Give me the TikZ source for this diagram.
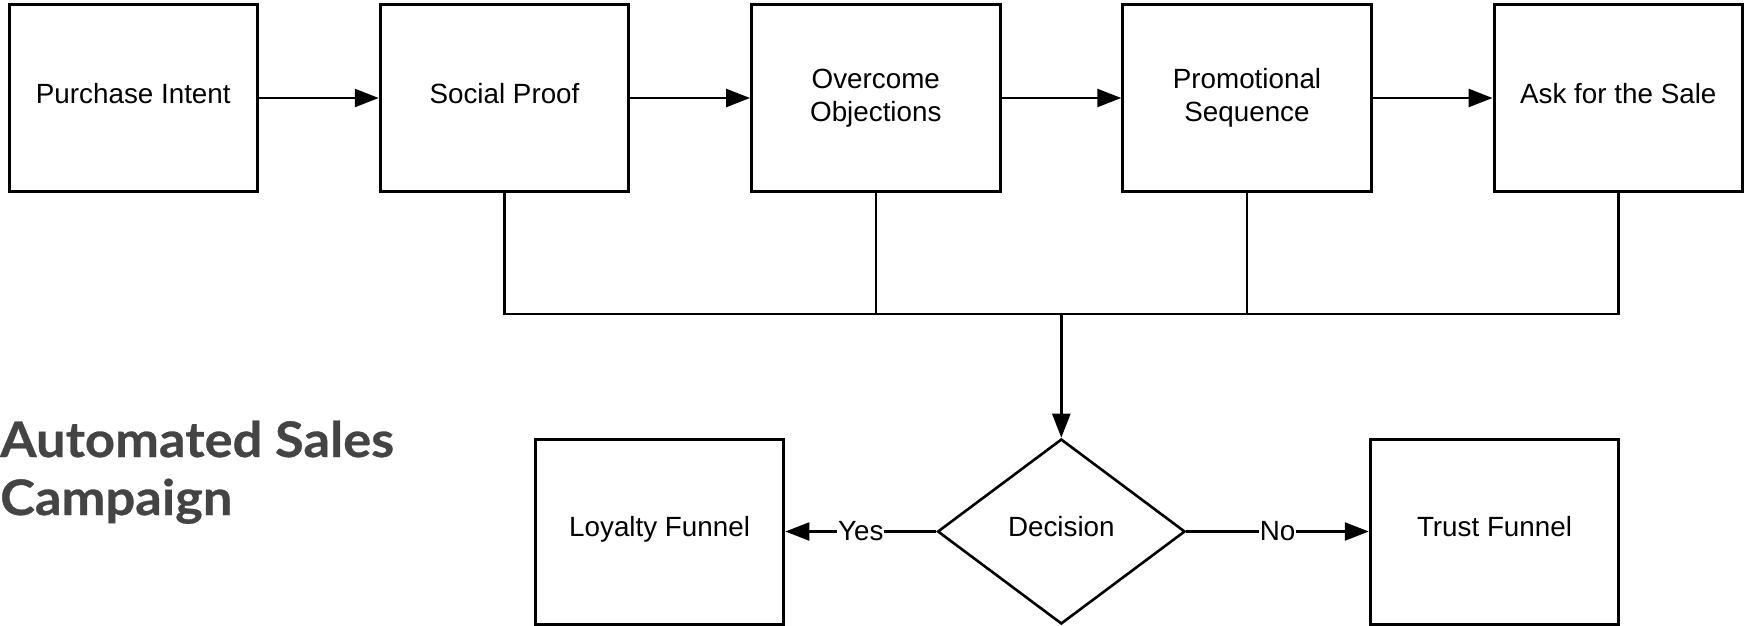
\documentclass[tikz,border=0pt]{standalone}
\usepackage{fontspec}
\setmainfont{Liberation Sans}
\newfontfamily\titlefont[FakeStretch=1.07,FakeBold=0.6]{Lato}
\usetikzlibrary{shapes.geometric,arrows.meta}
\definecolor{titlegray}{HTML}{444444}
\begin{document}
\begin{tikzpicture}[x=1pt,y=-1pt,
  boxfont/.style={font=\fontsize{27.8}{33.5}\selectfont},
  oneline/.style={text height=20pt, text depth=9.3pt},
  stepbox/.style={draw, line width=3pt, minimum width=248.5pt, minimum height=186.5pt,
    inner sep=0pt, align=center, boxfont},
  endbox/.style={stepbox, oneline, minimum height=185pt},
  choice/.style={draw, diamond, line width=2.6pt, minimum width=247.5pt, minimum height=185pt,
    inner sep=0pt, boxfont, oneline},
  link/.style={line width=2.4pt},
  flow/.style={link, -{Triangle[length=24pt,width=18pt]}},
  edgelabel/.style={fill=white, inner sep=1pt, boxfont},
  heading/.style={anchor=base west, inner sep=0pt, text=titlegray,
    font=\titlefont\bfseries\fontsize{49}{58}\selectfont}
]
\useasboundingbox (0,0) rectangle (1750,626);

% top row of campaign steps
\node[stepbox, oneline] (intent)  at (133.3,98) {Purchase Intent};
\node[stepbox, oneline] (social)  at (504.5,98) {Social Proof};
\node[stepbox] (objection) at (875.8,98) {Overcome\\Objections};
\node[stepbox] (promo)   at (1247,98) {Promotional\\Sequence};
\node[stepbox, oneline] (ask)     at (1618.3,98) {Ask for the Sale};

% decision and outcomes
\node[choice] (decision) at (1061.3,531.5) {Decision};
\node[endbox] (loyalty) at (659.6,531.5) {Loyalty Funnel};
\node[endbox] (trust)   at (1494.5,531.5) {Trust Funnel};

% title
\node[heading] (title1) at (0,457) {Automated Sales};
\node[heading] (title2) at (0,515) {Campaign};

% sequence arrows
\draw[flow] (intent) -- (social);
\draw[flow] (social) -- (objection);
\draw[flow] (objection) -- (promo);
\draw[flow] (promo) -- (ask);

% collecting bus
\coordinate (bus) at (0,314);
\draw[link] (social.south) -- (social.south |- bus) -- (ask.south |- bus) -- (ask.south);
\draw[link] (objection.south) -- (objection.south |- bus);
\draw[link] (promo.south) -- (promo.south |- bus);
\draw[flow] (decision.north |- bus) -- (decision.north);

% outcomes
\draw[flow] (decision.west) -- node[edgelabel] (yes) {Yes} (loyalty.east);
\draw[flow] (decision.east) -- node[edgelabel] (no) {No} (trust.west);
\end{tikzpicture}
\end{document}
